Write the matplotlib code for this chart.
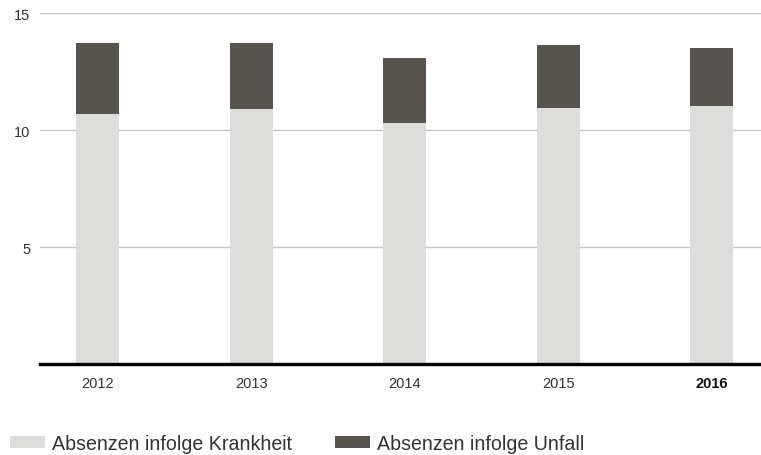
import matplotlib
matplotlib.use('Agg')
import matplotlib.pyplot as plt
import numpy as np

years = ['2012', '2013', '2014', '2015', '2016']
krankheit = [10.70, 10.91, 10.31, 10.95, 11.04]
gesamt = [13.75, 13.75, 13.09, 13.65, 13.52]
unfall = [g - k for g, k in zip(gesamt, krankheit)]

light = '#dddddc'
dark = '#57534e'

plt.rcParams['font.family'] = ['Liberation Sans', 'DejaVu Sans']

fig = plt.figure(figsize=(7.61, 4.56), dpi=100)
ax = fig.add_axes([40 / 761, 1 - 365 / 456, 1 - 40 / 761, (365 - 14.3) / 456])

x = np.arange(len(years))
ax.bar(x, krankheit, width=0.28, color=light, label='Absenzen infolge Krankheit', zorder=2)
ax.bar(x, unfall, width=0.28, bottom=krankheit, color=dark, label='Absenzen infolge Unfall', zorder=2)

ax.set_ylim(0, 15)
ax.set_xlim(-0.375, 4.32)
ax.set_yticks([5, 10, 15])
ax.yaxis.grid(True, color='#c4c4c4', linewidth=1)
ax.set_axisbelow(True)
for s in ['top', 'right', 'left']:
    ax.spines[s].set_visible(False)
ax.spines['bottom'].set_color('black')
ax.spines['bottom'].set_linewidth(2.4)
ax.spines['bottom'].set_zorder(3)
ax.tick_params(axis='both', length=0, labelsize=10.5, colors='#333333')
ax.tick_params(axis='y', pad=7)
ax.tick_params(axis='x', pad=9)
ax.set_xticks(x)
ax.set_xticklabels(years)
ax.get_xticklabels()[-1].set_fontweight('bold')
ax.get_xticklabels()[-1].set_color('#111111')

fig.legend(loc='lower left', bbox_to_anchor=(10 / 761, 2 / 456), ncol=2, frameon=False,
           fontsize=14.1, handlelength=1.78, handleheight=0.62, columnspacing=2.2,
           handletextpad=0.36, borderpad=0, borderaxespad=0, labelcolor='#333333')

fig.savefig('out.png', dpi=100)
